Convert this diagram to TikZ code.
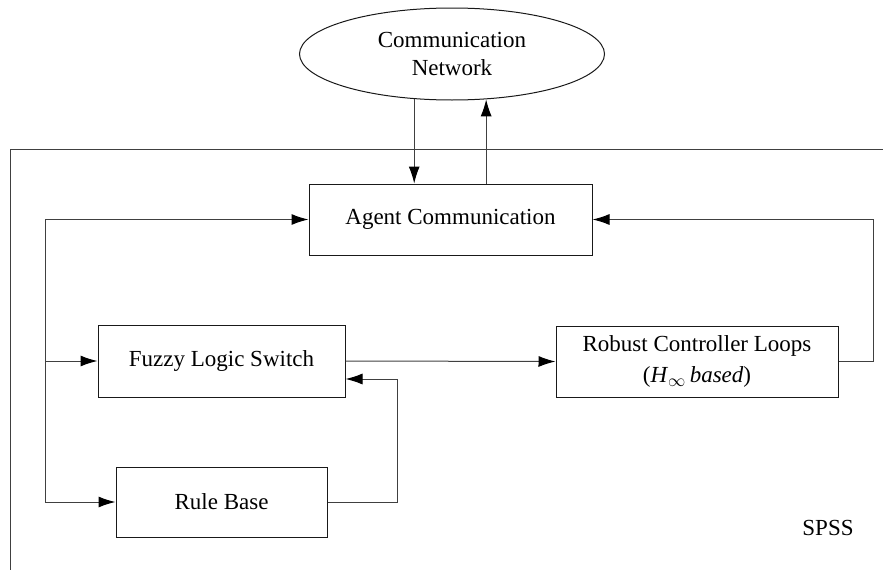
\documentclass[tikz,border=0pt]{standalone}
\usepackage{fontspec}
\setmainfont{Liberation Serif}
\usetikzlibrary{arrows.meta,shapes.geometric,calc}
\begin{document}
\begin{tikzpicture}[x=1pt,y=-1pt,
  font=\fontsize{23}{28}\selectfont,
  box/.style={draw=black!90,line width=1pt,rectangle,inner sep=0pt,align=center},
  wire/.style={draw=black!75,line width=1pt},
  arr/.style={wire,-{Latex[length=17pt,width=11pt,fill=black,color=black]}}]
\useasboundingbox (0,0) rectangle (883,570);
% outer frame (partially visible)
\coordinate (ftl) at (10,149);
\draw[wire] (883,149) -- (ftl) -- (10,570);
% nodes
\node[box,ellipse,minimum width=305pt,minimum height=92pt] (net) at (452,54) {Communication\\Network};
\node[box,minimum width=283pt,minimum height=71pt] (agent) at (450.5,219.5) {Agent Communication};
\node[box,minimum width=247pt,minimum height=72pt] (fuzzy) at (221.5,361) {Fuzzy Logic Switch};
\node[box,minimum width=282pt,minimum height=71pt,font=\fontsize{23}{31}\selectfont] (robust) at (697,361.5) {Robust Controller Loops\\(\textit{H}$_{\infty}$\,\textit{based})};
\node[box,minimum width=211pt,minimum height=70pt] (rule) at (221.5,502) {Rule Base};
\node (spss) at (828,528) {SPSS};
% connectors
\draw[arr] (net.230) -- (net.230 |- agent.north);
\draw[arr] (agent.north -| net.307) -- (net.307);
\coordinate (bt) at (45,502);
\draw[arr] (bt) |- (agent.west);
\draw[arr] (fuzzy.west -| bt) -- (fuzzy.west);
\draw[arr] (bt) -- (rule.west);
\draw[arr] (fuzzy.east) -- (robust.west);
\draw[arr] (robust.east) -- ++(35,0) |- (agent.east);
\draw[arr] (rule.east) -- ++(70,0) |- ($(fuzzy.east)+(0,18)$);
\end{tikzpicture}
\end{document}
